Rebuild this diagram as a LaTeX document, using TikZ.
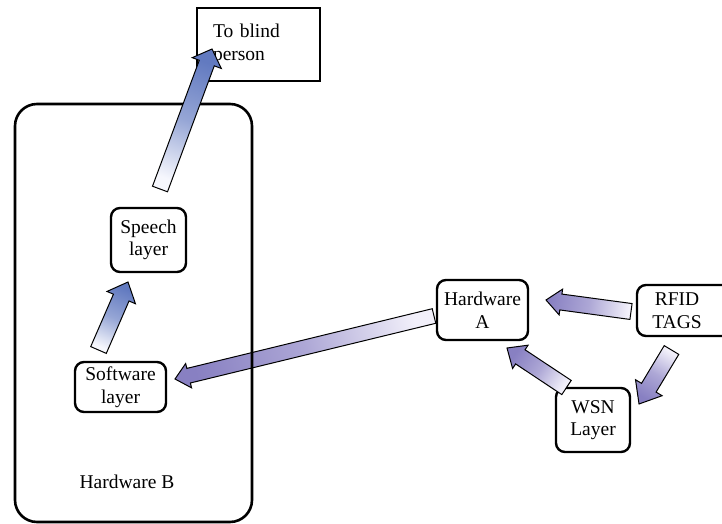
\documentclass[tikz,border=0pt]{standalone}
\usepackage{fontspec}
\setmainfont{Liberation Serif}
\usetikzlibrary{calc}
\definecolor{bluehead}{RGB}{98,122,192}
\definecolor{bluetail}{RGB}{246,247,253}
\definecolor{purphead}{RGB}{136,128,194}
\definecolor{purptail}{RGB}{242,240,250}
\tikzset{
  lbl/.style={font=\fontsize{19.5}{22.5}\selectfont, align=center, inner sep=0pt},
  box/.style={lbl, draw, line width=2.4pt, rounded corners=9pt},
  outer/.style={draw, line width=2.6pt, rounded corners=22pt, inner sep=0pt},
  blk/.style={draw=black, line width=1pt, line join=miter},
}
\newcommand\blkarrow[7]{%
  \pgfmathanglebetweenpoints{\pgfpointanchor{#1}{center}}{\pgfpointanchor{#2}{center}}%
  \let\myarrang\pgfmathresult
  \pgfmathsetmacro\myshang{\myarrang-90}%
  \coordinate (#1-n) at ($(#2)!#7pt!(#1)$);
  \draw[blk, top color=#3, bottom color=#4, middle color=#3!65!#4, shading angle=\myshang]
    ($(#1)!#5pt!90:(#2)$) -- ($(#1-n)!#5pt!90:(#2)$) -- ($(#1-n)!#6pt!90:(#2)$)
    -- (#2) -- ($(#1-n)!#6pt!-90:(#2)$) -- ($(#1-n)!#5pt!-90:(#2)$)
    -- ($(#1)!#5pt!-90:(#2)$) -- cycle;
}
\begin{document}
\begin{tikzpicture}[x=1pt,y=-1pt]
\useasboundingbox (0,0) rectangle (722,524);
% arrow endpoints
\coordinate (a1t) at (160,189);   \coordinate (a1h) at (212,49);
\coordinate (a2t) at (98.5,350);  \coordinate (a2h) at (128,282);
\coordinate (a3t) at (434,316);   \coordinate (a3h) at (175,379);
\coordinate (a4t) at (631,311.5); \coordinate (a4h) at (546,300);
\coordinate (a5t) at (566.5,387.5); \coordinate (a5h) at (507,348);
\coordinate (a6t) at (671.5,350); \coordinate (a6h) at (639,404);

\blkarrow{a3t}{a3h}{purphead}{purptail}{7.5}{12.5}{14}

\node[outer, minimum width=237pt, minimum height=418pt] (hwB) at (133.5,313) {};
\node[lbl] (hwBlbl) at (127,482) {Hardware B};

\node[lbl, draw, line width=2.4pt, minimum height=73pt, text width=91pt, inner xsep=16pt, align=left] (blind) at (258.5,44.5) {To blind\\person};
\node[box, minimum width=75pt, minimum height=64pt] (speech) at (148.5,240) {Speech\\layer};
\node[box, minimum width=91pt, minimum height=50pt] (software) at (120.5,387) {Software\\layer};
\node[box, minimum width=91pt, minimum height=60pt] (hwA) at (482.5,310) {Hardware\\A};
\node[box, minimum width=100pt, minimum height=51pt] (rfid) at (687,310.5) {};
\node[lbl] (rfidlbl) at (677,310.5) {RFID\\TAGS};
\node[box, minimum width=74pt, minimum height=64pt] (wsn) at (593,420) {WSN\\Layer};

\blkarrow{a1t}{a1h}{bluehead}{bluetail}{8}{15.5}{15}
\blkarrow{a2t}{a2h}{bluehead}{bluetail}{8.5}{15.5}{17}
\blkarrow{a4t}{a4h}{purphead}{purptail}{8}{13}{15}
\blkarrow{a5t}{a5h}{purphead}{purptail}{8.5}{14}{16}
\blkarrow{a6t}{a6h}{purphead}{purptail}{8.5}{15.5}{19}
\end{tikzpicture}
\end{document}
